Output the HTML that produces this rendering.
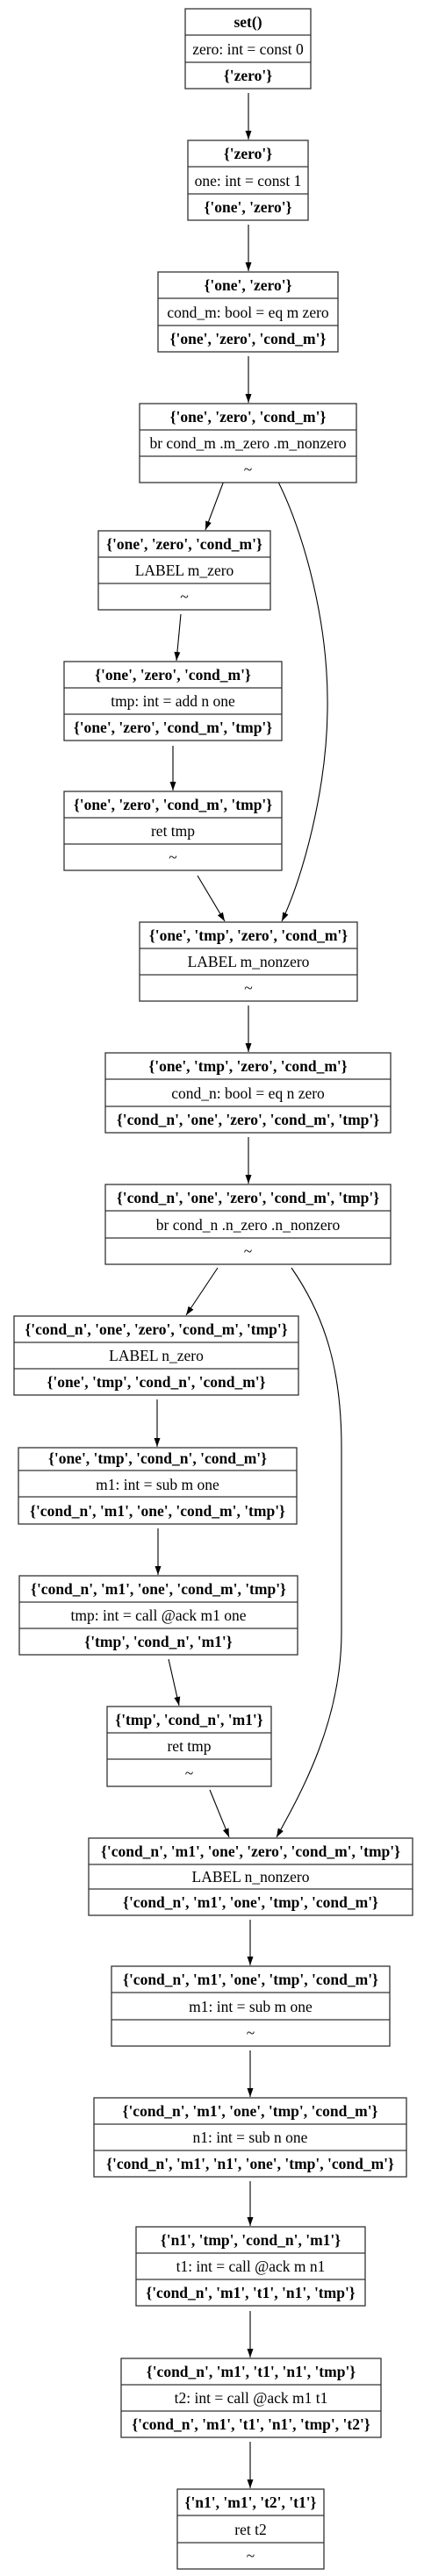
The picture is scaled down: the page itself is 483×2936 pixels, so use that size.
<!DOCTYPE html>
<html><head><meta charset="utf-8"><style>
html,body{margin:0;padding:0;background:#fff;}
svg{display:block;}
text{font-family:"Liberation Serif",serif;font-size:17.5px;fill:#000;text-anchor:middle;}
.b{font-weight:bold;}
rect,line.s{fill:#fff;stroke:#333;stroke-width:1.3;}
path.e{fill:none;stroke:#000;stroke-width:1.1;}
</style></head><body>
<svg width="483" height="2936" viewBox="0 0 483 2936" xmlns="http://www.w3.org/2000/svg">
<defs><marker id="a" markerUnits="userSpaceOnUse" markerWidth="11" markerHeight="8" refX="10" refY="3.5" orient="auto"><path d="M0,0 L10,3.5 L0,7 z" fill="#000"/></marker></defs>
<g id="edges">
<path class="e" marker-end="url(#a)" d="M283,106 L283,159"/>
<path class="e" marker-end="url(#a)" d="M283,256 L283,309"/>
<path class="e" marker-end="url(#a)" d="M283,406 L283,459"/>
<path class="e" marker-end="url(#a)" d="M258,540 L234,604"/>
<path class="e" marker-end="url(#a)" d="M312,540 C340,590 375,700 373,810 C372,900 345,1000 321,1050"/>
<path class="e" marker-end="url(#a)" d="M206,700 L201,753"/>
<path class="e" marker-end="url(#a)" d="M197,850 L197,901"/>
<path class="e" marker-end="url(#a)" d="M225,998 L256,1050"/>
<path class="e" marker-end="url(#a)" d="M283,1146 L283,1199"/>
<path class="e" marker-end="url(#a)" d="M283,1296 L283,1349"/>
<path class="e" marker-end="url(#a)" d="M248,1445 L212,1499"/>
<path class="e" marker-end="url(#a)" d="M332,1445 C370,1500 389,1560 389,1650 L389,1860 C389,1960 345,2040 315,2094"/>
<path class="e" marker-end="url(#a)" d="M179,1595 L179,1649"/>
<path class="e" marker-end="url(#a)" d="M180,1742 L180,1795"/>
<path class="e" marker-end="url(#a)" d="M192,1891 L204,1944"/>
<path class="e" marker-end="url(#a)" d="M239,2040 L261,2094"/>
<path class="e" marker-end="url(#a)" d="M285,2188 L285,2240"/>
<path class="e" marker-end="url(#a)" d="M285,2337 L285,2390"/>
<path class="e" marker-end="url(#a)" d="M285,2486 L285,2537"/>
<path class="e" marker-end="url(#a)" d="M285,2634 L285,2687"/>
<path class="e" marker-end="url(#a)" d="M285,2783 L285,2836"/>
</g>
<g><rect x="211" y="10" width="143" height="91"/><line class="s" x1="211" y1="40" x2="354" y2="40"/><line class="s" x1="211" y1="71" x2="354" y2="71"/>
<text class="b" x="282.5" y="31">set()</text><text x="282.5" y="62">zero: int = const 0</text><text class="b" x="282.5" y="92">{'zero'}</text></g>
<g><rect x="214" y="160" width="137" height="91"/><line class="s" x1="214" y1="190" x2="351" y2="190"/><line class="s" x1="214" y1="221" x2="351" y2="221"/>
<text class="b" x="282.5" y="181">{'zero'}</text><text x="282.5" y="212">one: int = const 1</text><text class="b" x="282.5" y="242">{'one', 'zero'}</text></g>
<g><rect x="180" y="310" width="205" height="91"/><line class="s" x1="180" y1="340" x2="385" y2="340"/><line class="s" x1="180" y1="371" x2="385" y2="371"/>
<text class="b" x="282.5" y="331">{'one', 'zero'}</text><text x="282.5" y="362">cond_m: bool = eq m zero</text><text class="b" x="282.5" y="392">{'one', 'zero', 'cond_m'}</text></g>
<g><rect x="159" y="460" width="247" height="90"/><line class="s" x1="159" y1="490" x2="406" y2="490"/><line class="s" x1="159" y1="520" x2="406" y2="520"/>
<text class="b" x="282.5" y="481">{'one', 'zero', 'cond_m'}</text><text x="282.5" y="511">br cond_m .m_zero .m_nonzero</text><text x="282.5" y="541">~</text></g>
<g><rect x="112" y="605" width="196" height="90"/><line class="s" x1="112" y1="635" x2="308" y2="635"/><line class="s" x1="112" y1="665" x2="308" y2="665"/>
<text class="b" x="210" y="626">{'one', 'zero', 'cond_m'}</text><text x="210" y="656">LABEL m_zero</text><text x="210" y="686">~</text></g>
<g><rect x="73" y="754" width="248" height="90"/><line class="s" x1="73" y1="784" x2="321" y2="784"/><line class="s" x1="73" y1="814" x2="321" y2="814"/>
<text class="b" x="197" y="775">{'one', 'zero', 'cond_m'}</text><text x="197" y="805">tmp: int = add n one</text><text class="b" x="197" y="835">{'one', 'zero', 'cond_m', 'tmp'}</text></g>
<g><rect x="73" y="902" width="248" height="90"/><line class="s" x1="73" y1="932" x2="321" y2="932"/><line class="s" x1="73" y1="962" x2="321" y2="962"/>
<text class="b" x="197" y="923">{'one', 'zero', 'cond_m', 'tmp'}</text><text x="197" y="953">ret tmp</text><text x="197" y="983">~</text></g>
<g><rect x="159" y="1051" width="248" height="90"/><line class="s" x1="159" y1="1081" x2="407" y2="1081"/><line class="s" x1="159" y1="1111" x2="407" y2="1111"/>
<text class="b" x="283" y="1072">{'one', 'tmp', 'zero', 'cond_m'}</text><text x="283" y="1102">LABEL m_nonzero</text><text x="283" y="1132">~</text></g>
<g><rect x="120" y="1200" width="325" height="91"/><line class="s" x1="120" y1="1230" x2="445" y2="1230"/><line class="s" x1="120" y1="1261" x2="445" y2="1261"/>
<text class="b" x="282.5" y="1221">{'one', 'tmp', 'zero', 'cond_m'}</text><text x="282.5" y="1252">cond_n: bool = eq n zero</text><text class="b" x="282.5" y="1282">{'cond_n', 'one', 'zero', 'cond_m', 'tmp'}</text></g>
<g><rect x="120" y="1350" width="325" height="91"/><line class="s" x1="120" y1="1380" x2="445" y2="1380"/><line class="s" x1="120" y1="1411" x2="445" y2="1411"/>
<text class="b" x="282.5" y="1371">{'cond_n', 'one', 'zero', 'cond_m', 'tmp'}</text><text x="282.5" y="1402">br cond_n .n_zero .n_nonzero</text><text x="282.5" y="1432">~</text></g>
<g><rect x="16" y="1500" width="324" height="90"/><line class="s" x1="16" y1="1530" x2="340" y2="1530"/><line class="s" x1="16" y1="1560" x2="340" y2="1560"/>
<text class="b" x="178" y="1521">{'cond_n', 'one', 'zero', 'cond_m', 'tmp'}</text><text x="178" y="1551">LABEL n_zero</text><text class="b" x="178" y="1581">{'one', 'tmp', 'cond_n', 'cond_m'}</text></g>
<g><rect x="21" y="1650" width="317" height="87"/><line class="s" x1="21" y1="1676" x2="338" y2="1676"/><line class="s" x1="21" y1="1706" x2="338" y2="1706"/>
<text class="b" x="179.5" y="1668">{'one', 'tmp', 'cond_n', 'cond_m'}</text><text x="179.5" y="1698">m1: int = sub m one</text><text class="b" x="179.5" y="1728">{'cond_n', 'm1', 'one', 'cond_m', 'tmp'}</text></g>
<g><rect x="22" y="1796" width="317" height="90"/><line class="s" x1="22" y1="1826" x2="339" y2="1826"/><line class="s" x1="22" y1="1856" x2="339" y2="1856"/>
<text class="b" x="180.5" y="1817">{'cond_n', 'm1', 'one', 'cond_m', 'tmp'}</text><text x="180.5" y="1847">tmp: int = call @ack m1 one</text><text class="b" x="180.5" y="1877">{'tmp', 'cond_n', 'm1'}</text></g>
<g><rect x="122" y="1945" width="187" height="91"/><line class="s" x1="122" y1="1975" x2="309" y2="1975"/><line class="s" x1="122" y1="2005" x2="309" y2="2005"/>
<text class="b" x="215.5" y="1966">{'tmp', 'cond_n', 'm1'}</text><text x="215.5" y="1996">ret tmp</text><text x="215.5" y="2027">~</text></g>
<g><rect x="101" y="2095" width="369" height="88"/><line class="s" x1="101" y1="2125" x2="470" y2="2125"/><line class="s" x1="101" y1="2153" x2="470" y2="2153"/>
<text class="b" x="285.5" y="2116">{'cond_n', 'm1', 'one', 'zero', 'cond_m', 'tmp'}</text><text x="285.5" y="2145">LABEL n_nonzero</text><text class="b" x="285.5" y="2174">{'cond_n', 'm1', 'one', 'tmp', 'cond_m'}</text></g>
<g><rect x="127" y="2241" width="317" height="91"/><line class="s" x1="127" y1="2271" x2="444" y2="2271"/><line class="s" x1="127" y1="2302" x2="444" y2="2302"/>
<text class="b" x="285.5" y="2262">{'cond_n', 'm1', 'one', 'tmp', 'cond_m'}</text><text x="285.5" y="2293">m1: int = sub m one</text><text x="285.5" y="2323">~</text></g>
<g><rect x="107" y="2391" width="356" height="90"/><line class="s" x1="107" y1="2421" x2="463" y2="2421"/><line class="s" x1="107" y1="2451" x2="463" y2="2451"/>
<text class="b" x="285" y="2412">{'cond_n', 'm1', 'one', 'tmp', 'cond_m'}</text><text x="285" y="2442">n1: int = sub n one</text><text class="b" x="285" y="2472">{'cond_n', 'm1', 'n1', 'one', 'tmp', 'cond_m'}</text></g>
<g><rect x="155" y="2538" width="261" height="90"/><line class="s" x1="155" y1="2568" x2="416" y2="2568"/><line class="s" x1="155" y1="2598" x2="416" y2="2598"/>
<text class="b" x="285.5" y="2559">{'n1', 'tmp', 'cond_n', 'm1'}</text><text x="285.5" y="2589">t1: int = call @ack m n1</text><text class="b" x="285.5" y="2619">{'cond_n', 'm1', 't1', 'n1', 'tmp'}</text></g>
<g><rect x="138" y="2688" width="296" height="90"/><line class="s" x1="138" y1="2718" x2="434" y2="2718"/><line class="s" x1="138" y1="2748" x2="434" y2="2748"/>
<text class="b" x="286" y="2709">{'cond_n', 'm1', 't1', 'n1', 'tmp'}</text><text x="286" y="2739">t2: int = call @ack m1 t1</text><text class="b" x="286" y="2769">{'cond_n', 'm1', 't1', 'n1', 'tmp', 't2'}</text></g>
<g><rect x="202" y="2837" width="167" height="91"/><line class="s" x1="202" y1="2867" x2="369" y2="2867"/><line class="s" x1="202" y1="2898" x2="369" y2="2898"/>
<text class="b" x="285.5" y="2858">{'n1', 'm1', 't2', 't1'}</text><text x="285.5" y="2889">ret t2</text><text x="285.5" y="2919">~</text></g>
</svg>
</body></html>
